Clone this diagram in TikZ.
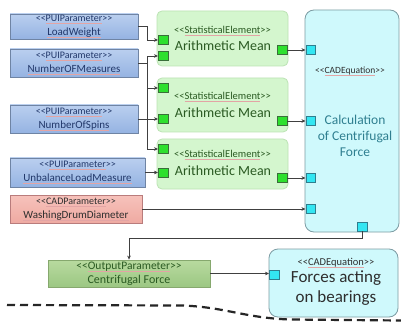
\documentclass[tikz,border=0pt]{standalone}
\usepackage{fontspec}
\newfontfamily\cf{Carlito}
\usetikzlibrary{arrows.meta,calc}
\definecolor{bluetop}{HTML}{BACFEF}
\definecolor{bluebot}{HTML}{95B3E2}
\definecolor{blueedge}{HTML}{6F84A4}
\definecolor{pinktop}{HTML}{F6C2BB}
\definecolor{pinkbot}{HTML}{EFAAA2}
\definecolor{pinkedge}{HTML}{B97C7C}
\definecolor{outtop}{HTML}{B8DA9F}
\definecolor{outbot}{HTML}{9CC783}
\definecolor{outedge}{HTML}{86A86E}
\definecolor{statfill}{HTML}{D4F6CE}
\definecolor{statedge}{HTML}{BCE3B4}
\definecolor{gportfill}{HTML}{2EE02E}
\definecolor{gportedge}{HTML}{3A6F3A}
\definecolor{cyanfill}{HTML}{CFF9FC}
\definecolor{cyanedge}{HTML}{7D9CA3}
\definecolor{cportfill}{HTML}{33E6F2}
\definecolor{cportedge}{HTML}{2F7E8E}
\definecolor{navy}{HTML}{22386A}
\definecolor{dgreen}{HTML}{2A5A22}
\definecolor{teal}{HTML}{2F7F90}
\definecolor{darktxt}{HTML}{2E2E2E}
\definecolor{linegray}{HTML}{404040}
\definecolor{splred}{HTML}{E3A5A5}
\newcommand\spl[1]{\setbox0\hbox{#1}\leavevmode\rlap{\textcolor{splred}{\rule[-1.7pt]{\wd0}{0.3pt}}}\box0}
\begin{document}
\begin{tikzpicture}[x=1pt,y=-1pt,
  font=\cf,
  ln/.style={draw=linegray, line width=0.7pt},
  arr/.style={ln, -{Stealth[length=4pt,width=3.6pt]}},
  bluebox/.style={draw=blueedge, line width=0.8pt, top color=bluetop, bottom color=bluebot,
    inner sep=0pt, align=center, text=navy, font=\cf\fontsize{11}{14}\selectfont},
  pinkbox/.style={bluebox, draw=pinkedge, top color=pinktop, bottom color=pinkbot},
  outbox/.style={draw=outedge, line width=0.8pt, top color=outtop, bottom color=outbot,
    inner sep=0pt, align=center, text=dgreen, font=\cf\fontsize{12}{14}\selectfont},
  statbox/.style={draw=statedge, line width=0.8pt, fill=statfill, rounded corners=5pt, inner sep=0pt},
  cadbox/.style={draw=cyanedge, line width=0.8pt, fill=cyanfill, rounded corners=9pt, inner sep=0pt},
  gport/.style={draw=gportedge, line width=0.5pt, fill=gportfill, minimum width=9.5pt, minimum height=9pt, inner sep=0pt},
  cport/.style={draw=cportedge, line width=0.5pt, fill=cportfill, minimum width=9.5pt, minimum height=9pt, inner sep=0pt},
  stlab/.style={inner sep=0pt, text=dgreen, font=\cf\fontsize{10.5}{12}\selectfont},
  mnlab/.style={inner sep=0pt, text=dgreen, font=\cf\fontsize{14}{16}\selectfont}
]
\useasboundingbox[fill=white] (0,0) rectangle (401,323);

% input parameter boxes
\node[bluebox, minimum width=128pt, minimum height=25pt] (lw) at (74,26.5)
  {{\fontsize{10}{14}\selectfont <<\spl{PUIParameter}>>}\\\spl{LoadWeight}};
\node[bluebox, minimum width=128pt, minimum height=28pt] (nm) at (74,63)
  {{\fontsize{10}{14}\selectfont <<\spl{PUIParameter}>>}\\\spl{NumberOFMeasures}};
\node[bluebox, minimum width=128pt, minimum height=28pt] (ns) at (74,119)
  {{\fontsize{10}{14}\selectfont <<\spl{PUIParameter}>>}\\\spl{NumberOfSpins}};
\node[bluebox, minimum width=135pt, minimum height=29pt] (ul) at (77.5,172.5)
  {{\fontsize{10}{14}\selectfont <<\spl{PUIParameter}>>}\\\spl{UnbalanceLoadMeasure}};
\node[pinkbox, minimum width=132pt, minimum height=28pt, text=darktxt] (wd) at (76,209)
  {{\fontsize{10}{14}\selectfont <<\spl{CADParameter}>>}\\\spl{WashingDrumDiameter}};

% statistical elements
\node[statbox, minimum width=131pt, minimum height=55pt] (m1) at (222.5,38.5) {};
\node[statbox, minimum width=131pt, minimum height=54pt] (m2) at (222.5,105) {};
\node[statbox, minimum width=131pt, minimum height=50pt] (m3) at (222.5,164) {};
\node[stlab] (m1s) at (222.5,31) {<<\spl{StatisticalElement}>>};
\node[mnlab] (m1n) at (223,46) {Arithmetic Mean};
\node[stlab] (m2s) at (222.5,97) {<<\spl{StatisticalElement}>>};
\node[mnlab] (m2n) at (223,113) {Arithmetic Mean};
\node[stlab] (m3s) at (222.5,155) {<<\spl{StatisticalElement}>>};
\node[mnlab] (m3n) at (223,171) {Arithmetic Mean};

% CAD equation (big)
\node[cadbox, minimum width=94pt, minimum height=222pt] (cb) at (352,121) {};
\node[inner sep=0pt, text=darktxt, font=\cf\fontsize{9.5}{12}\selectfont] (cbs) at (350,71) {<<\spl{CADEquation}>>};
\node[inner sep=0pt, text=teal, align=center, font=\cf\fontsize{13.5}{16}\selectfont] (cbt) at (355,135.5)
  {Calculation\\of Centrifugal\\Force};

% ports
\node[gport] (p1) at (163,40) {};
\node[gport] (p2) at (163,56) {};
\node[gport] (p3) at (163,88) {};
\node[gport] (p4) at (163,119) {};
\node[gport] (p5) at (163,149) {};
\node[gport] (p6) at (163,172.5) {};
\node[gport] (q1) at (282,50) {};
\node[gport] (q2) at (282,121) {};
\node[gport] (q3) at (282,178) {};
\node[cport] (c1) at (310.5,50) {};
\node[cport] (c2) at (310.5,121) {};
\node[cport] (c3) at (310.5,178) {};
\node[cport] (c4) at (310.5,209) {};
\node[cport] (c5) at (362,226.5) {};

% output parameter and second equation
\node[outbox, minimum width=162pt, minimum height=27pt] (op) at (129,273.5)
  {{\fontsize{11.5}{14}\selectfont <<\spl{OutputParameter}>>}\\Centrifugal Force};
\node[cadbox, minimum width=129pt, minimum height=68pt] (fb) at (333.5,283) {};
\node[cport] (fp) at (274,274.5) {};
\node[inner sep=0pt, text=darktxt, font=\cf\fontsize{10.5}{12}\selectfont] (fbs) at (336,263) {<<\spl{CADEquation}>>};
\node[inner sep=0pt, text=darktxt, align=center, font=\cf\fontsize{17}{20}\selectfont] (fbt) at (336,288.5)
  {Forces acting\\on bearings};

% connectors
\coordinate (j) at (147,0);
\draw[arr] (lw.east) -- (lw.east -| j) |- (p1.west);
\draw[arr] (nm.east) -- (nm.east -| j) |- (p2.west);
\draw[arr] (nm.east) -- (nm.east -| j) |- (p3.west);
\draw[arr] (nm.east) -- (nm.east -| j) |- (p5.west);
\draw[arr] (ns.east) -- (ns.east -| p4.west);
\draw[arr] (ul.east) -- (ul.east -| p6.west);
\draw[arr] (wd.east) -- (wd.east -| c4.west);
\draw[arr] (q1.east) -- (c1.west);
\draw[arr] (q2.east) -- (c2.west);
\draw[arr] (q3.east) -- (c3.west);
\coordinate (bend) at (129,238);
\draw[arr] (c5.south) |- (bend) -- (op.north);
\draw[arr] (op.east) -- (op.east -| fp.west);

% dashed cut line
\draw[line width=2.2pt, dash pattern=on 8pt off 5pt, black!85]
  (7,305) -- (182,305.5) .. controls (225,307) and (245,318) .. (290,319.5) -- (401,320.5);
\end{tikzpicture}
\end{document}
